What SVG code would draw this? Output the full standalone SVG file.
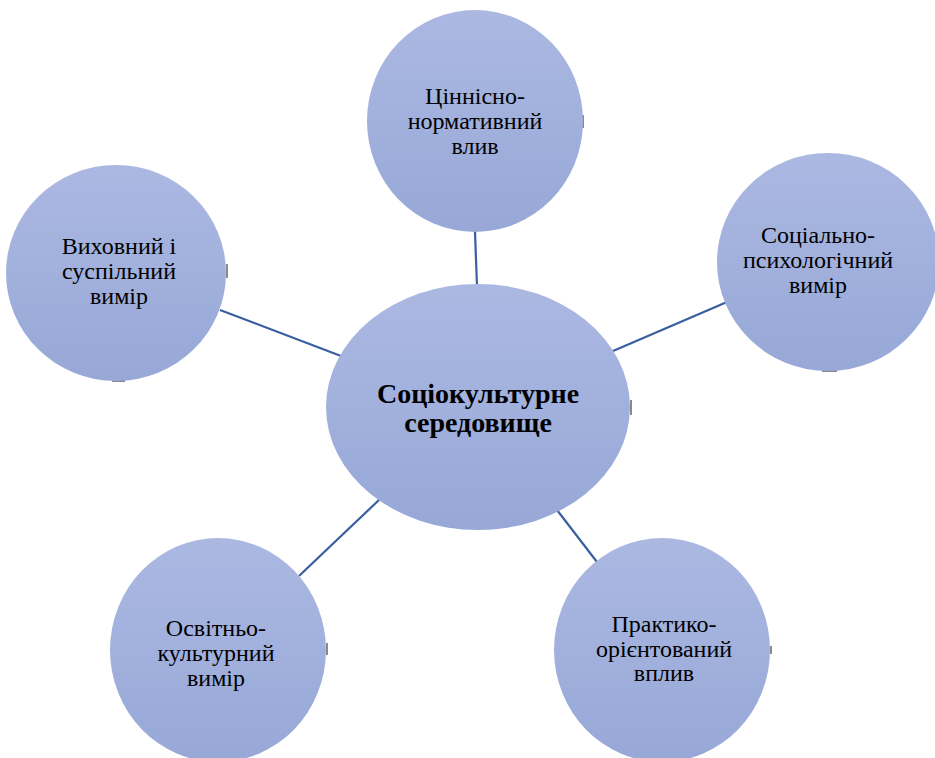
<svg xmlns="http://www.w3.org/2000/svg" width="935" height="758" viewBox="0 0 935 758">
<defs>
<linearGradient id="g" x1="0" y1="0" x2="0" y2="1">
<stop offset="0" stop-color="#abb8e2"/>
<stop offset="1" stop-color="#97a8d7"/>
</linearGradient>
<style>
.n{fill:url(#g);}
.t{font-family:"Liberation Serif","DejaVu Serif",serif;font-size:24px;fill:#000;text-anchor:middle;}
.c{font-family:"Liberation Serif","DejaVu Serif",serif;font-size:28px;font-weight:bold;fill:#000;text-anchor:middle;}
.l{stroke:#3a5fa0;stroke-width:2.2;fill:none;}
.s{stroke:#8a8a8a;stroke-width:2;fill:none;}
</style>
</defs>
<rect width="935" height="758" fill="#fff"/>
<g id="shadows">
<line class="s" x1="583" y1="115" x2="583" y2="128"/>
<line class="s" x1="227" y1="264" x2="227" y2="278"/>
<line class="s" x1="112" y1="381" x2="125" y2="381"/>
<line class="s" x1="822" y1="371" x2="837" y2="371"/>
<line class="s" x1="631" y1="400" x2="631" y2="415"/>
<line class="s" x1="327" y1="643" x2="327" y2="655"/>
<line class="s" x1="771" y1="646" x2="771" y2="654"/>
</g>
<g id="connectors">
<line class="l" x1="475" y1="232" x2="477" y2="286"/>
<line class="l" x1="220" y1="310" x2="341" y2="356"/>
<line class="l" x1="613" y1="351" x2="727" y2="302"/>
<line class="l" x1="299" y1="576" x2="380" y2="499"/>
<line class="l" x1="557" y1="510" x2="597" y2="562"/>
</g>
<g id="center">
<ellipse class="n" cx="478" cy="407" rx="152" ry="123"/>
<text class="c" x="478" y="403">Соціокультурне</text>
<text class="c" x="478" y="432">середовище</text>
</g>
<g id="top">
<ellipse class="n" cx="475" cy="121" rx="108" ry="111"/>
<text class="t" x="475" y="104">Ціннісно-</text>
<text class="t" x="475" y="129">нормативний</text>
<text class="t" x="475" y="154">влив</text>
</g>
<g id="left">
<ellipse class="n" cx="116" cy="273" rx="110" ry="108"/>
<text class="t" x="119" y="254">Виховний і</text>
<text class="t" x="119" y="279">суспільний</text>
<text class="t" x="119" y="304">вимір</text>
</g>
<g id="right">
<ellipse class="n" cx="828" cy="262" rx="111" ry="109"/>
<text class="t" x="818" y="243">Соціально-</text>
<text class="t" x="818" y="268">психологічний</text>
<text class="t" x="818" y="293">вимір</text>
</g>
<g id="bottomleft">
<ellipse class="n" cx="218" cy="650" rx="108" ry="112"/>
<text class="t" x="216" y="636">Освітньо-</text>
<text class="t" x="216" y="661">культурний</text>
<text class="t" x="216" y="686">вимір</text>
</g>
<g id="bottomright">
<ellipse class="n" cx="662" cy="650" rx="108" ry="112"/>
<text class="t" x="664" y="632">Практико-</text>
<text class="t" x="664" y="657">орієнтований</text>
<text class="t" x="664" y="681">вплив</text>
</g>
</svg>
